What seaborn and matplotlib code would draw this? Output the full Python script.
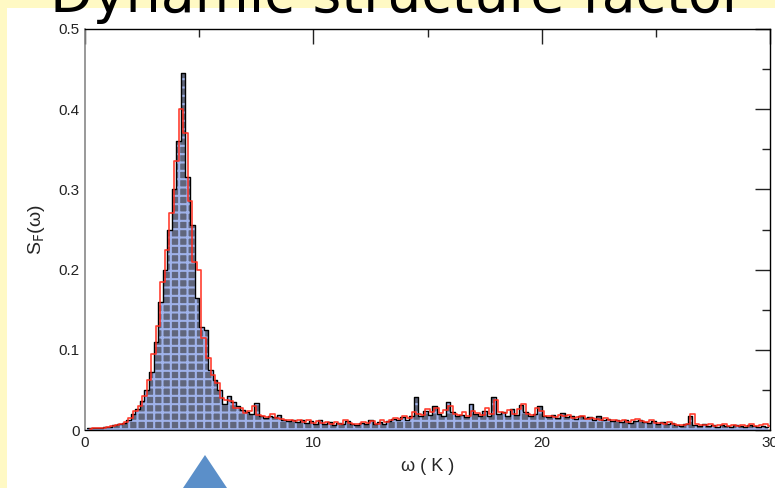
import numpy as np
import matplotlib
matplotlib.use("Agg")
import matplotlib.pyplot as plt
import seaborn as sns
from matplotlib.patches import Rectangle, Polygon

# -----------------------------
# Data (0.2 K bins)
# -----------------------------
omega_black = np.arange(150) * 0.2 + 0.1
omega_red = omega_black + 0.1

sf_black = [
    0.002, 0.002, 0.002, 0.003, 0.004, 0.004, 0.006, 0.007, 0.009, 0.012,
    0.020, 0.026, 0.036, 0.050, 0.072, 0.110, 0.160, 0.200, 0.250, 0.300,
    0.360, 0.445, 0.315, 0.255, 0.165, 0.128, 0.125, 0.075, 0.062, 0.050,
    0.033, 0.042, 0.035, 0.030, 0.025, 0.022, 0.020, 0.034, 0.018, 0.015,
    0.018, 0.016, 0.019, 0.012, 0.011, 0.013, 0.010, 0.012, 0.009, 0.011,
    0.008, 0.012, 0.007, 0.010, 0.006, 0.009, 0.008, 0.011, 0.007, 0.006,
    0.009, 0.008, 0.012, 0.007, 0.010, 0.008, 0.011, 0.014, 0.012, 0.016,
    0.013, 0.018, 0.041, 0.017, 0.024, 0.019, 0.030, 0.020, 0.018, 0.035,
    0.022, 0.017, 0.019, 0.016, 0.033, 0.020, 0.018, 0.024, 0.017, 0.041,
    0.020, 0.023, 0.018, 0.026, 0.019, 0.031, 0.022, 0.017, 0.020, 0.030,
    0.018, 0.016, 0.019, 0.015, 0.021, 0.016, 0.018, 0.014, 0.017, 0.015,
    0.016, 0.013, 0.017, 0.012, 0.014, 0.011, 0.013, 0.010, 0.012, 0.009,
    0.011, 0.013, 0.010, 0.009, 0.011, 0.008, 0.010, 0.007, 0.009, 0.006,
    0.005, 0.007, 0.018, 0.006, 0.005, 0.007, 0.005, 0.006, 0.004, 0.006,
    0.005, 0.004, 0.006, 0.005, 0.004, 0.006, 0.005, 0.004, 0.005, 0.004,
]

sf_red = [
    0.001, 0.002, 0.003, 0.003, 0.004, 0.005, 0.006, 0.008, 0.010, 0.015,
    0.024, 0.030, 0.042, 0.062, 0.095, 0.130, 0.185, 0.225, 0.270, 0.335,
    0.400, 0.370, 0.285, 0.210, 0.200, 0.115, 0.090, 0.068, 0.058, 0.040,
    0.038, 0.036, 0.028, 0.027, 0.021, 0.024, 0.030, 0.019, 0.017, 0.016,
    0.020, 0.015, 0.014, 0.013, 0.012, 0.011, 0.013, 0.010, 0.012, 0.009,
    0.011, 0.009, 0.010, 0.007, 0.010, 0.008, 0.012, 0.009, 0.008, 0.007,
    0.010, 0.009, 0.011, 0.008, 0.012, 0.010, 0.013, 0.015, 0.014, 0.017,
    0.015, 0.022, 0.020, 0.019, 0.026, 0.022, 0.028, 0.021, 0.025, 0.030,
    0.020, 0.019, 0.022, 0.018, 0.024, 0.021, 0.019, 0.027, 0.020, 0.038,
    0.023, 0.021, 0.025, 0.020, 0.026, 0.032, 0.020, 0.019, 0.028, 0.024,
    0.017, 0.018, 0.016, 0.019, 0.017, 0.019, 0.015, 0.016, 0.018, 0.014,
    0.015, 0.014, 0.013, 0.015, 0.012, 0.012, 0.011, 0.012, 0.010, 0.012,
    0.014, 0.011, 0.010, 0.012, 0.009, 0.009, 0.008, 0.010, 0.007, 0.006,
    0.006, 0.008, 0.020, 0.007, 0.006, 0.006, 0.007, 0.005, 0.006, 0.007,
    0.005, 0.006, 0.005, 0.006, 0.005, 0.007, 0.005, 0.006, 0.007, 0.005,
]

x_ticks = [0, 10, 20, 30]
y_ticks = [0, 0.1, 0.2, 0.3, 0.4, 0.5]
y_tick_labels = ["0", "0.1", "0.2", "0.3", "0.4", "0.5"]

# -----------------------------
# Slide background
# -----------------------------
sns.set_style("white")
plt.rcParams["font.family"] = ["Liberation Sans", "DejaVu Sans"]
plt.rcParams["hatch.linewidth"] = 1.5

fig = plt.figure(figsize=(7.75, 4.88), dpi=100)
fig.patch.set_facecolor("#fff9c4")
fig.patches.append(Rectangle((7 / 775, 0), 1, 1 - 8 / 488,
                             transform=fig.transFigure,
                             facecolor="white", edgecolor="none", zorder=-5))

fig.text(0.513, 1 - 12 / 488, "Dynamic structure factor",
         ha="center", va="baseline", fontsize=40,
         family=["DejaVu Sans"], color="black", zorder=5)

# blue arrow at the bottom
fig.patches.append(Polygon([(183 / 775, 0), (205 / 775, 1 - 455 / 488),
                            (227 / 775, 0)], closed=True,
                           transform=fig.transFigure,
                           facecolor="#5b8fc9", edgecolor="none", zorder=1))

# -----------------------------
# Spectrum
# -----------------------------
ax = fig.add_axes([85 / 775, 58 / 488, 685 / 775, 401 / 488])
ax.set_zorder(2)
ax.set_facecolor("white")

ax.fill_between(omega_black, sf_black, step="mid",
                facecolor="#60667c", edgecolor="#9fb2ea",
                hatch="++", linewidth=0, zorder=1)
sns.lineplot(x=omega_black, y=sf_black, drawstyle="steps-mid",
             color="black", linewidth=1.0, ax=ax, zorder=3)
sns.lineplot(x=omega_red, y=sf_red, drawstyle="steps-mid",
             color="#ff2a1a", linewidth=1.2, alpha=0.9, ax=ax, zorder=4)

ax.set_xlim(0, 30)
ax.set_ylim(0, 0.5)
ax.set_xticks(x_ticks)
ax.set_yticks(y_ticks)
ax.set_yticklabels(y_tick_labels)
ax.set_xticks([5, 15, 25], minor=True)
ax.set_yticks([0.05, 0.15, 0.25, 0.35, 0.45], minor=True)
ax.tick_params(which="both", direction="in", top=True, right=True,
               labelsize=11, colors="#222222", pad=4)
ax.tick_params(which="major", length=11, width=1)
ax.tick_params(which="minor", length=6, width=1)

for side in ["top", "right", "bottom"]:
    ax.spines[side].set_color("black")
    ax.spines[side].set_linewidth(1)
ax.spines["left"].set_color("#888888")
ax.spines["left"].set_linewidth(1.2)

ax.set_xlabel("ω ( K )", fontsize=13, labelpad=6)
ax.set_ylabel("S$_\\mathrm{F}$(ω)", fontsize=14, labelpad=8)

fig.savefig("out.png", dpi=100, facecolor=fig.get_facecolor())
